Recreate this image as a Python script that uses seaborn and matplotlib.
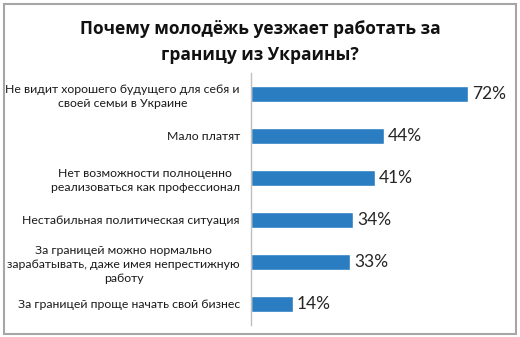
import matplotlib
matplotlib.use("Agg")
import matplotlib.pyplot as plt
import seaborn as sns
import pandas as pd
from matplotlib.patches import Rectangle

# Survey answers and shares (%)
reasons = [
    "Не видит хорошего будущего для себя и\nсвоей семьи в Украине",
    "Мало платят",
    "Нет возможности полноценно\nреализоваться как профессионал",
    "Нестабильная политическая ситуация",
    "За границей можно нормально\nзарабатывать, даже имея непрестижную\nработу",
    "За границей проще начать свой бизнес",
]
shares = [72, 44, 41, 34, 33, 14]
title = "Почему молодёжь уезжает работать за\nграницу из Украины?"

df = pd.DataFrame({"reason": reasons, "share": shares})

sns.set_theme(style="white")
plt.rcParams["font.family"] = ["Lato", "DejaVu Sans"]

W, H = 520, 337
fig = plt.figure(figsize=(W / 100, H / 100), dpi=100)
fig.patch.set_facecolor("white")

# axes placed in pixel terms: zero line at x=251, top y=73, bottom y=325
left, right, top, bottom = 251, 492, 73, 325
ax = fig.add_axes([left / W, (H - bottom) / H, (right - left) / W, (bottom - top) / H])

sns.barplot(data=df, x="share", y="reason", orient="h", color="#2a7dc1",
            saturation=1, width=0.39, ax=ax)

ax.set_xlim(0, 80)
ax.set_xlabel("")
ax.set_ylabel("")
ax.set_xticks([])
for s in ["top", "right", "bottom"]:
    ax.spines[s].set_visible(False)
ax.spines["left"].set_color("#bfbfbf")
ax.spines["left"].set_linewidth(1.0)
ax.tick_params(axis="y", length=0, pad=8, labelsize=8.8, labelcolor="#1a1a1a")
for t in ax.get_yticklabels():
    t.set_multialignment("center")
    t.set_linespacing(1.35)

for i, v in enumerate(shares):
    ax.text(v + 1.3, i, f"{v}%", va="center", ha="left",
            fontsize=12.5, color="#262626")

fig.text(0.5, 1 - 42 / H, title, ha="center", va="center",
         fontsize=12.5, fontweight="bold", family=["Open Sans", "DejaVu Sans"],
         color="#111111", linespacing=1.6)

# outer chart frame
fig.patches.append(Rectangle((3.5 / W, 3.5 / H), 512 / W, 330 / H,
                             transform=fig.transFigure, fill=False,
                             edgecolor="#a6a6a6", linewidth=1.5))

fig.savefig("out.png", dpi=100)
